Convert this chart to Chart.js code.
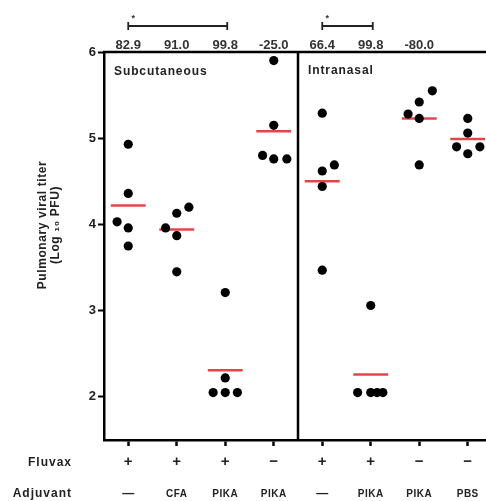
<!DOCTYPE html>
<html>
<head>
<meta charset="utf-8">
<script src="https://cdn.jsdelivr.net/npm/chart.js@4"></script>
<style>
  html,body{margin:0;padding:0;background:#fff;overflow:hidden;}
  #wrap{width:510px;height:501px;}
</style>
</head>
<body>
<div id="wrap"><canvas id="c" width="510" height="501"></canvas></div>
<script>
// groups, left to right
const fluvax   = ['+','+','+','\u2212','+','+','\u2212','\u2212'];
const adjuvant = ['\u2014','CFA','PIKA','PIKA','\u2014','PIKA','PIKA','PBS'];
const reduction = ['82.9','91.0','99.8','-25.0','66.4','99.8','-80.0',''];
const routes = ['Subcutaneous','Intranasal'];
const yTicks = [2,3,4,5,6];

// log10 PFU per mouse
const titers = [
  [4.93,4.36,4.03,3.96,3.75],
  [3.96,4.13,4.20,3.87,3.45],
  [3.21,2.22,2.05,2.05,2.05],
  [5.90,5.15,4.80,4.76,4.76],
  [5.29,4.62,4.69,4.44,3.47],
  [3.06,2.05,2.05,2.05,2.05],
  [5.55,5.42,5.28,5.23,4.69],
  [5.23,5.06,4.90,4.90,4.82]
];
// horizontal scatter of the dots (category units)
const jitter = [
  [0,0,-0.23,0,0],
  [-0.23,0,0.25,0,0],
  [0,0,-0.25,0,0.25],
  [0,0,-0.23,0,0.27],
  [0,0,0.25,0,0],
  [0,-0.27,0,0.13,0.25],
  [0.27,0,-0.23,0,0],
  [0,0,-0.23,0.25,0]
];
const means = [4.22,3.94,2.31,5.08,4.50,2.26,5.23,4.99];
const sigPairs = [[0,2],[4,5]];

const FONT = '"Liberation Sans", Arial, sans-serif';

const dotData = [];
titers.forEach((g,i)=>g.forEach((v,j)=>dotData.push({x:i+jitter[i][j], y:v})));

const datasets = [{
  type:'scatter', data:dotData, pointRadius:4.6, pointHoverRadius:4.6,
  backgroundColor:'#000', borderColor:'#000', borderWidth:0, order:1
}];
means.forEach((m,i)=>{
  datasets.push({
    type:'line', data:[{x:i-0.36,y:m},{x:i+0.36,y:m}],
    borderColor:'#e04848', borderWidth:2.5, pointRadius:0, order:2
  });
});

const decor = {
  id:'decor',
  afterDraw(chart){
    const {ctx, chartArea:a, scales:{x,y}} = chart;
    ctx.save();
    ctx.strokeStyle='#000'; ctx.fillStyle='#000'; ctx.lineWidth=2.5;
    // top border and divider
    ctx.beginPath();
    ctx.moveTo(a.left-1, a.top); ctx.lineTo(a.right+10, a.top);
    const dx = x.getPixelForValue(3.5);
    ctx.moveTo(dx, a.top); ctx.lineTo(dx, a.bottom);
    ctx.stroke();
    // panel titles
    ctx.font='bold 12px '+FONT; ctx.textBaseline='middle'; ctx.textAlign='left';
    ctx.letterSpacing='0.9px';
    ctx.fillStyle='#222';
    ctx.fillText(routes[0], a.left+10, a.top+20);
    ctx.fillText(routes[1], dx+10, a.top+19);
    ctx.letterSpacing='0px';
    // reduction percentages
    ctx.font='bold 13px '+FONT; ctx.textAlign='center'; ctx.textBaseline='alphabetic';
    ctx.fillStyle='#333';
    reduction.forEach((t,i)=>{ if(t) ctx.fillText(t, x.getPixelForValue(i), a.top-3); });
    // significance brackets
    ctx.lineWidth=1.8; ctx.strokeStyle='#222';
    sigPairs.forEach(([p,q])=>{
      const x1=x.getPixelForValue(p), x2=x.getPixelForValue(q)+2, yy=a.top-26;
      ctx.beginPath();
      ctx.moveTo(x1,yy); ctx.lineTo(x2,yy);
      ctx.moveTo(x1,yy-4); ctx.lineTo(x1,yy+4);
      ctx.moveTo(x2,yy-4); ctx.lineTo(x2,yy+4);
      ctx.stroke();
      ctx.font='bold 9px '+FONT;
      ctx.fillText('*', x1+5, yy-5);
    });
    // row labels under the axis
    ctx.fillStyle='#222'; ctx.textBaseline='middle';
    ctx.font='bold 12px '+FONT; ctx.textAlign='right';
    ctx.letterSpacing='1px';
    ctx.fillText('Fluvax', 72, 463);
    ctx.fillText('Adjuvant', 72, 494);
    ctx.textAlign='center';
    ctx.letterSpacing='0px';
    fluvax.forEach((t,i)=>{
      ctx.font='bold 15px '+FONT;
      ctx.fillText(t, x.getPixelForValue(i), 462);
    });
    adjuvant.forEach((t,i)=>{
      ctx.font=(t.length>1?'bold 10px ':'bold 12px ')+FONT;
      ctx.letterSpacing = t.length>1 ? '0.5px' : '0px';
      ctx.fillText(t, x.getPixelForValue(i), 494);
    });
    ctx.letterSpacing='0px';
    // y axis title
    ctx.translate(49, 225); ctx.rotate(-Math.PI/2);
    ctx.font='bold 12px '+FONT; ctx.textAlign='center';
    ctx.letterSpacing='0.6px';
    ctx.fillText('Pulmonary viral titer', 0, -6);
    ctx.fillText('(Log \u2081\u2080 PFU)', 0, 7);
    ctx.restore();
  }
};

new Chart(document.getElementById('c'), {
  data:{datasets},
  options:{
    responsive:false, animation:false,
    layout:{padding:{top:52,right:18,bottom:0,left:0}},
    plugins:{legend:{display:false}, tooltip:{enabled:false}},
    scales:{
      x:{
        type:'linear', min:-0.5, max:7.5,
        afterBuildTicks:s=>{ s.ticks = fluvax.map((f,i)=>({value:i})); },
        afterFit:s=>{ s.height = 61; },
        ticks:{display:false},
        grid:{drawOnChartArea:false, drawTicks:true, tickLength:6, tickWidth:2.5, tickColor:'#000'},
        border:{color:'#000', width:2.5}
      },
      y:{
        min:1.5, max:6,
        afterBuildTicks:s=>{ s.ticks = yTicks.map(v=>({value:v})); },
        afterFit:s=>{ s.width = 104; },
        ticks:{color:'#222', font:{family:FONT, size:13, weight:'bold'}, padding:2},
        grid:{drawOnChartArea:false, drawTicks:true, tickLength:6, tickWidth:2, tickColor:'#000'},
        border:{color:'#000', width:2.5}
      }
    }
  },
  plugins:[decor]
});
</script>
</body>
</html>
